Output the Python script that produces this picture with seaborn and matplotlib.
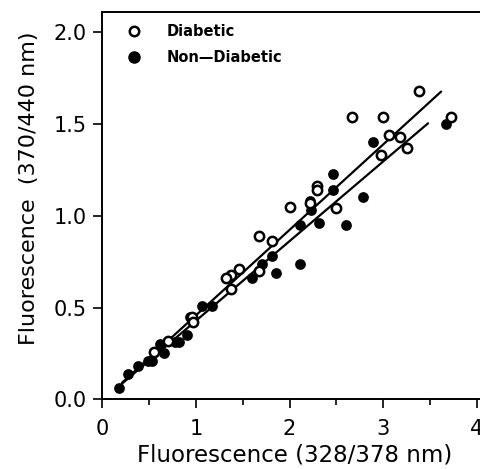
import pandas as pd
import seaborn as sns
import matplotlib.pyplot as plt
from matplotlib.lines import Line2D

# values (x = 328/378 nm, y = 370/440 nm)
diabetic_x = [3.38, 2.67, 3.00, 3.73, 3.06, 3.18, 2.98, 3.26, 2.29, 2.29,
              2.00, 2.50, 2.22, 1.67, 1.81, 1.46, 1.37, 1.32, 1.67, 1.37,
              0.96, 0.97, 0.70, 0.55]
diabetic_y = [1.68, 1.54, 1.54, 1.54, 1.44, 1.43, 1.33, 1.37, 1.16, 1.14,
              1.05, 1.04, 1.07, 0.89, 0.86, 0.71, 0.68, 0.66, 0.70, 0.60,
              0.45, 0.42, 0.32, 0.26]
nondiabetic_x = [3.67, 2.89, 2.46, 2.46, 2.79, 2.22, 2.23, 2.11, 2.32, 2.60,
                 1.81, 1.71, 1.60, 1.86, 2.11, 1.06, 1.17, 0.94, 0.90, 0.82,
                 0.78, 0.66, 0.62, 0.53, 0.49, 0.38, 0.27, 0.18]
nondiabetic_y = [1.50, 1.40, 1.23, 1.14, 1.10, 1.08, 1.03, 0.95, 0.96, 0.95,
                 0.78, 0.74, 0.66, 0.69, 0.74, 0.51, 0.51, 0.45, 0.35, 0.31,
                 0.31, 0.25, 0.30, 0.21, 0.21, 0.18, 0.14, 0.06]

# regression line end points
fit_diabetic_x = [0.21, 3.62]
fit_diabetic_y = [0.09, 1.677]
fit_nondiabetic_x = [0.21, 3.48]
fit_nondiabetic_y = [0.085, 1.504]

sns.set_style('ticks')
plt.rcParams['font.family'] = ['DejaVu Sans']
plt.rcParams['text.color'] = 'black'
plt.rcParams['axes.labelcolor'] = 'black'
plt.rcParams['xtick.color'] = 'black'
plt.rcParams['ytick.color'] = 'black'

diab = pd.DataFrame({'x': diabetic_x, 'y': diabetic_y})
nond = pd.DataFrame({'x': nondiabetic_x, 'y': nondiabetic_y})

fig = plt.figure(figsize=(4.8, 4.69), dpi=100)
ax = fig.add_axes([102.3 / 480, 69.7 / 469, 383.8 / 480, 387.2 / 469])

sns.lineplot(x=fit_diabetic_x, y=fit_diabetic_y, ax=ax, color='black', lw=1.6)
sns.lineplot(x=fit_nondiabetic_x, y=fit_nondiabetic_y, ax=ax, color='black', lw=1.6)
sns.scatterplot(data=nond, x='x', y='y', ax=ax, color='black', s=60,
                linewidth=0, zorder=3)
sns.scatterplot(data=diab, x='x', y='y', ax=ax, facecolor='white',
                edgecolor='black', s=45, linewidth=1.8, zorder=4)

ax.set_xlim(0, 4.1)
ax.set_ylim(0, 2.11)
ax.set_xticks([0, 1, 2, 3, 4])
ax.set_xticks([0.5, 1.5, 2.5, 3.5], minor=True)
ax.set_yticks([0.0, 0.5, 1.0, 1.5, 2.0])
ax.set_yticklabels(['0.0', '0.5', '1.0', '1.5', '2.0'])
ax.tick_params(axis='both', which='major', length=6.5, width=1.2,
               labelsize=15, color='black', labelcolor='black')
ax.tick_params(axis='y', which='major', pad=5)
ax.tick_params(axis='x', which='major', pad=8)
ax.tick_params(axis='x', which='minor', length=4, width=1.2, color='black')
for sp in ax.spines.values():
    sp.set_linewidth(1.4)
    sp.set_color('black')

ax.set_xlabel('Fluorescence (328/378 nm)', fontsize=16.5, labelpad=3)
ax.set_ylabel('Fluorescence  (370/440 nm)', fontsize=16)
ax.yaxis.set_label_coords(-0.165, 0.546)

handles = [Line2D([], [], marker='o', ls='', mfc='white', mec='black', mew=1.8, ms=6.8),
           Line2D([], [], marker='o', ls='', mfc='black', mec='black', ms=8)]
ax.legend(handles, ['Diabetic', 'Non\u2014Diabetic'], loc='upper left',
          bbox_to_anchor=(0.06, 0.968), frameon=False, borderpad=0,
          borderaxespad=0, handlelength=1.2, handletextpad=1.6,
          labelspacing=0.7, prop={'weight': 'bold', 'size': 10.5})

fig.savefig('out.png', dpi=100)
